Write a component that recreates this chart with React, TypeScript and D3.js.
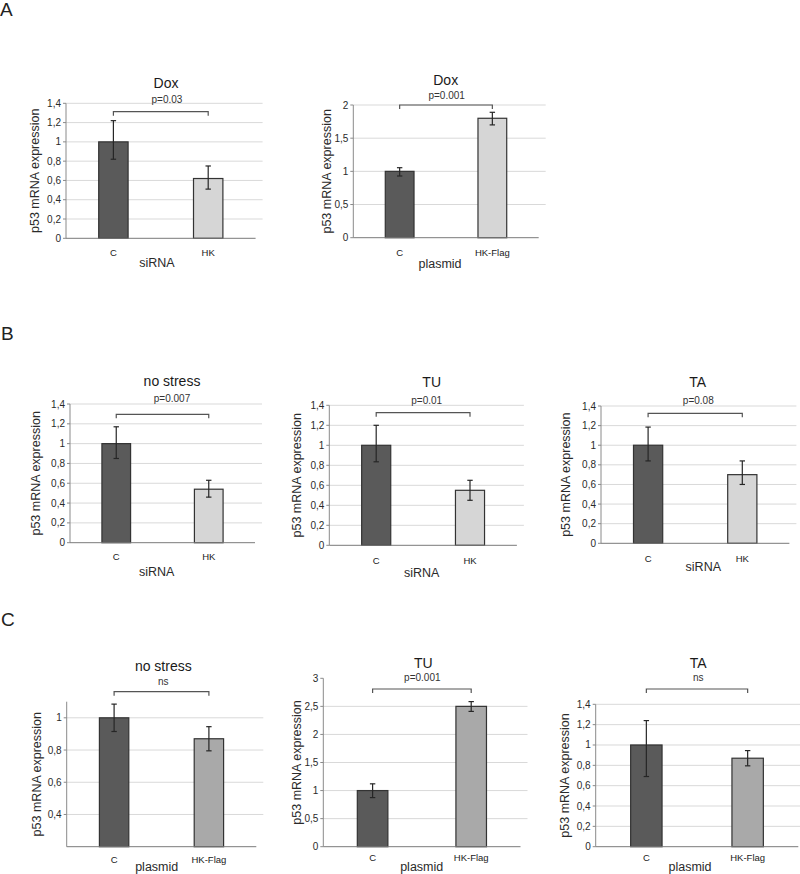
import React from "react";
import * as d3 from "d3";

// ---------- data ----------
const panelLetters = ["A", "B", "C"];
const panelTitles = ["Dox", "Dox", "no stress", "TU", "TA", "no stress", "TU", "TA"];
const pLabels = ["p=0.03", "p=0.001", "p=0.007", "p=0.01", "p=0.08", "ns", "p=0.001", "ns"];
const xTitles = ["siRNA", "plasmid", "siRNA", "siRNA", "siRNA", "plasmid", "plasmid", "plasmid"];
const controlLabels = ["C", "C", "C", "C", "C", "C", "C", "C"];
const treatLabels = ["HK", "HK-Flag", "HK", "HK", "HK", "HK-Flag", "HK-Flag", "HK-Flag"];
const meanC = [1, 1, 1, 1, 1, 1, 1, 1];
const meanHK = [0.62, 1.8, 0.54, 0.55, 0.7, 0.87, 2.5, 0.87];
const errUpC = [0.22, 0.055, 0.17, 0.2, 0.185, 0.085, 0.12, 0.24];
const errDownC = [0.18, 0.07, 0.15, 0.165, 0.16, 0.085, 0.125, 0.31];
const errUpHK = [0.13, 0.09, 0.09, 0.1, 0.14, 0.075, 0.085, 0.075];
const errDownHK = [0.11, 0.1, 0.08, 0.1, 0.1, 0.075, 0.09, 0.075];
const yDomains = [
  [0, 1.4], [0, 2], [0, 1.4], [0, 1.4], [0, 1.4], [0.2, 1.1], [0, 3], [0, 1.4],
];
const yTicks = [
  [0, 0.2, 0.4, 0.6, 0.8, 1, 1.2, 1.4],
  [0, 0.5, 1, 1.5, 2],
  [0, 0.2, 0.4, 0.6, 0.8, 1, 1.2, 1.4],
  [0, 0.2, 0.4, 0.6, 0.8, 1, 1.2, 1.4],
  [0, 0.2, 0.4, 0.6, 0.8, 1, 1.2, 1.4],
  [0.4, 0.6, 0.8, 1],
  [0, 0.5, 1, 1.5, 2, 2.5, 3],
  [0, 0.2, 0.4, 0.6, 0.8, 1, 1.2, 1.4],
];
const yLabel = "p53 mRNA expression";

// ---------- layout (positions / styles) ----------
const LAYOUT = [
  { x0: 66, x1: 255.6, yBase: 238.3, yTop: 103.3, titleX: 166, titleY: 83, pX: 167, pY: 99, brY: 111.7, xtX: 157, xtY: 263, tickY: 252, ylabX: 35, hkFill: "#d6d6d6", gridTop: true },
  { x0: 353.3, x1: 538.7, yBase: 237.7, yTop: 105, titleX: 445.7, titleY: 80, pX: 446.7, pY: 95, brY: 105, xtX: 440, xtY: 264, tickY: 252.7, ylabX: 327, hkFill: "#d6d6d6", gridTop: true },
  { x0: 70, x1: 255, yBase: 542.7, yTop: 404, titleX: 172, titleY: 381, pX: 172, pY: 398, brY: 414.3, xtX: 156.7, xtY: 571.7, tickY: 556.7, ylabX: 36, hkFill: "#d6d6d6", gridTop: true },
  { x0: 329.3, x1: 516.9, yBase: 545.3, yTop: 405.3, titleX: 431.7, titleY: 382.3, pX: 426.7, pY: 400, brY: 412.7, xtX: 421.7, xtY: 573.3, tickY: 560, ylabX: 296.7, hkFill: "#d6d6d6", gridTop: true },
  { x0: 601, x1: 789.4, yBase: 543.3, yTop: 406, titleX: 697.7, titleY: 381.7, pX: 698.3, pY: 400, brY: 413.3, xtX: 703.3, xtY: 567.3, tickY: 558.3, ylabX: 566, hkFill: "#d6d6d6", gridTop: true },
  { x0: 66.7, x1: 256.3, yBase: 846.7, yTop: 701.7, titleX: 163.3, titleY: 666, pX: 163.3, pY: 681.7, brY: 691.7, xtX: 156.7, xtY: 866.7, tickY: 859.3, ylabX: 36.7, hkFill: "#a9a9a9", gridTop: true },
  { x0: 323.3, x1: 520.5, yBase: 846.7, yTop: 678.3, titleX: 423.3, titleY: 663.3, pX: 422.3, pY: 677.3, brY: 689, xtX: 421.7, xtY: 866.7, tickY: 857.3, ylabX: 296.7, hkFill: "#a9a9a9", gridTop: false },
  { x0: 595.7, x1: 798.3, yBase: 846.7, yTop: 704.3, titleX: 698.3, titleY: 662.7, pX: 698.3, pY: 677.3, brY: 689, xtX: 690, xtY: 866.7, tickY: 857.3, ylabX: 565, hkFill: "#a9a9a9", gridTop: true },
];
const LETTER_POS = [
  { x: 0, y: 15.5 },
  { x: 1, y: 340 },
  { x: 1, y: 626 },
];

const FONT = "'Liberation Sans', Arial, sans-serif";
const C_FILL = "#5a5a5a";
const fmt = (v: number) => String(v).replace(".", ",");

function Panel({ i }: { i: number }) {
  const L = LAYOUT[i];
  const cats = [controlLabels[i], treatLabels[i]];
  const x = d3.scaleBand<string>().domain(cats).range([L.x0, L.x1]).paddingInner(0.69).paddingOuter(0.345);
  const y = d3.scaleLinear().domain(yDomains[i]).range([L.yBase, L.yTop]);
  const bw = x.bandwidth();
  const bars = [
    { cat: cats[0], v: meanC[i], up: errUpC[i], dn: errDownC[i], fill: C_FILL },
    { cat: cats[1], v: meanHK[i], up: errUpHK[i], dn: errDownHK[i], fill: L.hkFill },
  ];
  const cx = (c: string) => (x(c) as number) + bw / 2;
  const gridEnd = L.x1 + 7;
  const ticks = yTicks[i];
  const top = yDomains[i][1];
  const yMid = (L.yBase + L.yTop) / 2;
  return (
    <g>
      {ticks
        .filter((t) => t !== yDomains[i][0] && (L.gridTop || t !== top))
        .map((t) => (
          <line key={"g" + t} x1={L.x0} x2={gridEnd} y1={y(t)} y2={y(t)} stroke="#d9d9d9" strokeWidth={1} />
        ))}
      {bars.map((b) => (
        <rect
          key={b.cat}
          x={x(b.cat)}
          y={y(b.v)}
          width={bw}
          height={L.yBase - y(b.v)}
          fill={b.fill}
          stroke="#333"
          strokeWidth={1.2}
        />
      ))}
      {bars.map((b) => {
        const c = cx(b.cat);
        const yt = y(b.v + b.up);
        const yb = y(b.v - b.dn);
        return (
          <g key={"e" + b.cat} stroke="#262626" strokeWidth={1.2}>
            <line x1={c} x2={c} y1={yt} y2={yb} />
            <line x1={c - 2.7} x2={c + 2.7} y1={yt} y2={yt} />
            <line x1={c - 2.7} x2={c + 2.7} y1={yb} y2={yb} />
          </g>
        );
      })}
      <line x1={L.x0} x2={L.x0} y1={L.yBase} y2={L.yTop} stroke="#8a8a8a" strokeWidth={1} />
      <line x1={L.x0} x2={L.x1} y1={L.yBase} y2={L.yBase} stroke="#7a7a7a" strokeWidth={1} />
      {ticks.map((t) => (
        <g key={"t" + t}>
          <line x1={L.x0 - 3} x2={L.x0} y1={y(t)} y2={y(t)} stroke="#8a8a8a" />
          <text
            x={L.x0 - 5}
            y={y(t)}
            textAnchor="end"
            dominantBaseline="central"
            fontSize={10}
            fill="#2a2a2a"
          >
            {fmt(t)}
          </text>
        </g>
      ))}
      {cats.map((c) => (
        <text key={"x" + c} x={cx(c)} y={L.tickY} textAnchor="middle" dominantBaseline="central" fontSize={9.5} fill="#1a1a1a">
          {c}
        </text>
      ))}
      <text
        transform={`translate(${L.ylabX},${yMid}) rotate(-90)`}
        textAnchor="middle"
        dominantBaseline="central"
        fontSize={12.5}
        fill="#2a2a2a"
      >
        {yLabel}
      </text>
      <text x={L.xtX} y={L.xtY} textAnchor="middle" dominantBaseline="central" fontSize={12.5} fill="#2a2a2a">
        {xTitles[i]}
      </text>
      <text x={L.titleX} y={L.titleY} textAnchor="middle" dominantBaseline="central" fontSize={14} fill="#1a1a1a">
        {panelTitles[i]}
      </text>
      <text x={L.pX} y={L.pY} textAnchor="middle" dominantBaseline="central" fontSize={10} fill="#333">
        {pLabels[i]}
      </text>
      <path
        d={`M${cx(cats[0])},${L.brY + 4}V${L.brY}H${cx(cats[1])}V${L.brY + 4}`}
        fill="none"
        stroke="#555"
        strokeWidth={1.2}
      />
    </g>
  );
}

export default function App() {
  return (
    <svg
      width={800}
      height={874}
      style={{ position: "absolute", left: 0, top: 0, background: "#fff" }}
      fontFamily={FONT}
    >
      <rect width={800} height={874} fill="#fff" />
      {panelLetters.map((l, k) => (
        <text key={l} x={LETTER_POS[k].x} y={LETTER_POS[k].y} fontSize={19} fill="#222">
          {l}
        </text>
      ))}
      {LAYOUT.map((_, i) => (
        <Panel key={i} i={i} />
      ))}
    </svg>
  );
}
